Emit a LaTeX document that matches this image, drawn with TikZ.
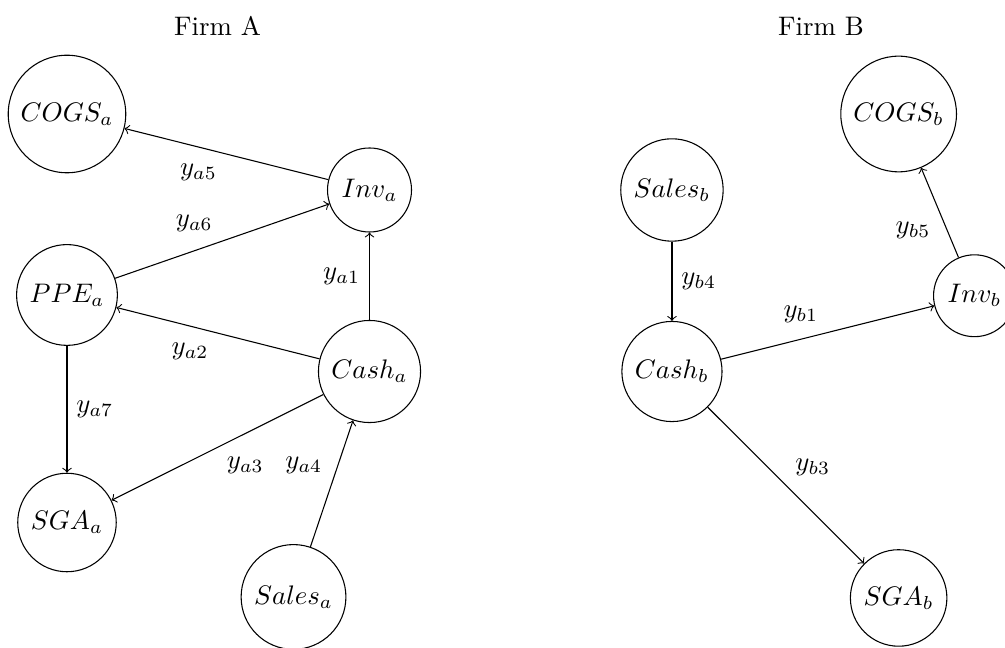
\documentclass[tikz,border=0pt]{standalone}
\usepackage{amsmath}
\usepackage{amsfonts}

\begin{document}
\begin{tikzpicture}[acct/.style={draw,circle}, flow/.style={->}]
			\useasboundingbox (0,0) rectangle (13.172,-8.480);
			\node (FirmA)at(2.851,-0.341) {Firm A};
			\node (FirmB)at(10.76,-0.341) {Firm B};
			% firm A
			\node[acct] (COGSa)at(0.878,-1.494) {$COGS_a$};
			\node[acct] (Inva)at(4.843,-2.490) {$Inv_a$};
			\node[acct] (PPEa)at(0.878,-3.866) {$PPE_a$};
			\node[acct] (Casha)at(4.843,-4.869) {$Cash_a$};
			\node[acct] (SGAa)at(0.878,-6.848) {$SGA_a$};
			\node[acct] (Salesa)at(3.847,-7.824) {$Sales_a$};
			% firm B
			\node[acct] (Salesb)at(8.807,-2.490) {$Sales_b$};
			\node[acct] (COGSb)at(11.778,-1.494) {$COGS_b$};
			\node[acct] (Invb)at(12.772,-3.876) {$Inv_b$};
			\node[acct] (Cashb)at(8.807,-4.869) {$Cash_b$};
			\node[acct] (SGAb)at(11.778,-7.837) {$SGA_b$};
			\draw[flow] (Casha) -- node[left] {$y_{a1}$} (Inva);
			\draw[flow] (Casha) -- node[below left] {$y_{a2}$} (PPEa);
			\draw[flow] (Casha) -- node[below right] {$y_{a3}$} (SGAa);
			\draw[flow] (Salesa) -- node[above left] {$y_{a4}$} (Casha);
			\draw[flow] (Inva) -- node[below left] {$y_{a5}$} (COGSa);
			\draw[flow] (PPEa) -- node[above left] {$y_{a6}$} (Inva);
			\draw[flow] (PPEa) -- node[right] {$y_{a7}$} (SGAa);
			\draw[flow] (Cashb) -- node[above left] {$y_{b1}$} (Invb);
			\draw[flow] (Cashb) -- node[above right] {$y_{b3}$} (SGAb);
			\draw[flow] (Salesb) -- node[right] {$y_{b4}$} (Cashb);
			\draw[flow] (Invb) -- node[below left] {$y_{b5}$} (COGSb);
		\end{tikzpicture}
\end{document}
